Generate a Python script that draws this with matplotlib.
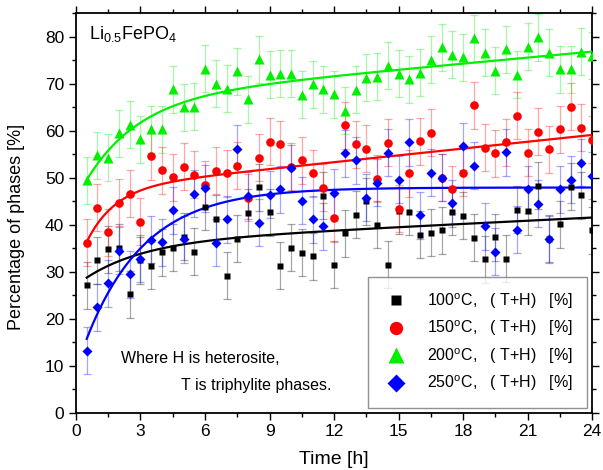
import numpy as np
import matplotlib
matplotlib.use('Agg')
import matplotlib.pyplot as plt
from matplotlib.ticker import MultipleLocator

plt.rcParams['font.family'] = ['Liberation Sans', 'DejaVu Sans']
plt.rcParams['mathtext.fontset'] = 'custom'
plt.rcParams['mathtext.rm'] = 'Liberation Sans'

# sampling times [h]
time_h = np.arange(0.5, 24.01, 0.5)

# phase percentage (T+H) for each annealing temperature
p_100 = [27.1, 32.4, 34.8, 35.1, 25.2, 32.4, 31.3, 34.1, 35.1, 37.4, 34.2, 43.8,
         41.3, 29.1, 37.0, 42.5, 48.0, 42.6, 31.3, 35.1, 34.0, 33.3, 46.1, 31.5,
         38.2, 42.1, 45.0, 40.0, 31.5, 43.0, 42.7, 37.9, 38.3, 38.8, 42.7, 41.9,
         37.2, 32.6, 37.3, 32.8, 43.2, 42.9, 48.3, 37.0, 40.1, 48.1, 46.3, 38.8]
p_150 = [36.1, 43.6, 38.4, 44.7, 46.6, 40.6, 54.6, 51.6, 50.1, 52.3, 50.6, 48.5,
         51.5, 50.9, 52.5, 45.7, 54.2, 57.6, 57.1, 52.3, 53.7, 50.9, 47.9, 41.4,
         61.2, 57.1, 56.2, 49.8, 57.4, 43.4, 50.9, 57.8, 59.6, 50.0, 47.5, 51.0,
         65.4, 56.4, 55.2, 57.5, 63.2, 55.3, 59.8, 56.0, 60.3, 65.1, 60.6, 58.1]
p_200 = [49.4, 54.8, 54.2, 59.5, 61.3, 58.2, 60.3, 60.3, 68.8, 65.0, 65.1, 73.2,
         70.0, 68.9, 72.6, 66.7, 75.2, 71.9, 72.1, 72.1, 67.6, 69.9, 68.8, 67.8,
         64.2, 68.7, 71.3, 71.5, 73.8, 72.1, 70.9, 72.3, 75.1, 77.8, 76.1, 75.6,
         79.7, 76.6, 72.8, 77.3, 71.9, 77.9, 79.9, 76.6, 73.1, 73.1, 76.8, 75.9]
p_250 = [13.2, 22.4, 27.5, 34.4, 29.4, 32.8, 36.8, 36.3, 43.1, 36.9, 46.6, 47.8,
         36.2, 41.2, 56.2, 46.1, 40.4, 46.4, 47.5, 52.0, 45.1, 41.1, 39.7, 46.8,
         55.2, 53.7, 45.7, 48.9, 55.3, 49.6, 57.5, 42.0, 51.0, 50.0, 44.6, 56.7,
         52.5, 39.7, 34.2, 55.4, 38.9, 47.5, 44.5, 36.9, 47.5, 49.6, 53.2, 50.4]
err = 5.0

labels = ['100$^{\\mathrm{o}}$C,   ( T+H)   [%]',
          '150$^{\\mathrm{o}}$C,   ( T+H)   [%]',
          '200$^{\\mathrm{o}}$C,   ( T+H)   [%]',
          '250$^{\\mathrm{o}}$C,   ( T+H)   [%]']
colors = ['#000000', '#ff0000', '#00f000', '#0000ff']
markers = ['s', 'o', '^', 'D']
msizes = [5.0, 6.2, 7.0, 5.6]


def fit_curve(t, y, tt):
    # y = a + b*(1-exp(-t/tau)) + k*t, least squares with tau scanned, k >= 0
    best = None
    for use_k in (True, False):
        for tau in np.linspace(0.2, 6, 300):
            cols = [np.ones_like(t), 1 - np.exp(-t / tau)]
            if use_k:
                cols.append(t)
            A = np.column_stack(cols)
            coef = np.linalg.lstsq(A, y, rcond=None)[0]
            if use_k and coef[2] < 0:
                continue
            r = np.sum((A @ coef - y) ** 2)
            if best is None or r < best[0]:
                best = (r, tau, coef)
    _, tau, c = best
    k = c[2] if len(c) > 2 else 0.0
    return c[0] + c[1] * (1 - np.exp(-tt / tau)) + k * tt


fig = plt.figure(figsize=(6.03, 4.70), dpi=100)
ax = fig.add_axes([0.126, 0.122, 0.856, 0.850])

tt = np.linspace(0.5, 24, 300)
series = [p_100, p_150, p_200, p_250]
handles = []
for y, c, m, ms, lab in zip(series, colors, markers, msizes, labels):
    y = np.array(y)
    ax.errorbar(time_h, y, yerr=err, fmt='none', ecolor=c, alpha=0.35,
                elinewidth=0.9, capsize=3, capthick=0.9, zorder=2)
    ax.plot(tt, fit_curve(time_h, y, tt), '-', color=c, lw=1.6, zorder=3)
    ax.plot(time_h, y, m, color=c, ms=ms, mec='none', zorder=4)
    handles.append(plt.Line2D([], [], ls='none', marker=m, color=c,
                              ms=ms * 1.55, mec='none', label=lab))

ax.set_xlim(0, 24)
ax.set_ylim(0, 85)
ax.xaxis.set_major_locator(MultipleLocator(3))
ax.xaxis.set_minor_locator(MultipleLocator(1.5))
ax.yaxis.set_major_locator(MultipleLocator(10))
ax.yaxis.set_minor_locator(MultipleLocator(5))
ax.tick_params(which='both', direction='out', labelsize=12.5, width=1.0)
ax.tick_params(which='major', length=5)
ax.tick_params(which='minor', length=3)
ax.tick_params(which='both', top=True, right=True)
for s in ax.spines.values():
    s.set_linewidth(1.3)

ax.set_xlabel('Time [h]', fontsize=14, labelpad=8)
ax.set_ylabel('Percentage of phases [%]', fontsize=13)
ax.yaxis.set_label_coords(-0.098, 0.465)

ax.text(0.6, 80.5, 'Li$_{0.5}$FePO$_4$', fontsize=13, va='center')
ax.text(2.1, 11.6, 'Where H is heterosite,', fontsize=11.5, va='center')
ax.text(4.9, 5.8, 'T is triphylite phases.', fontsize=11.5, va='center')

leg = ax.legend(handles=handles, loc='lower right', fontsize=11.5,
                frameon=True, fancybox=False, edgecolor='#777777',
                borderpad=0.9, labelspacing=0.5, handletextpad=1.1,
                borderaxespad=0.3, handlelength=1.7)
leg.get_frame().set_linewidth(1.0)

fig.savefig('out.png', dpi=100)
